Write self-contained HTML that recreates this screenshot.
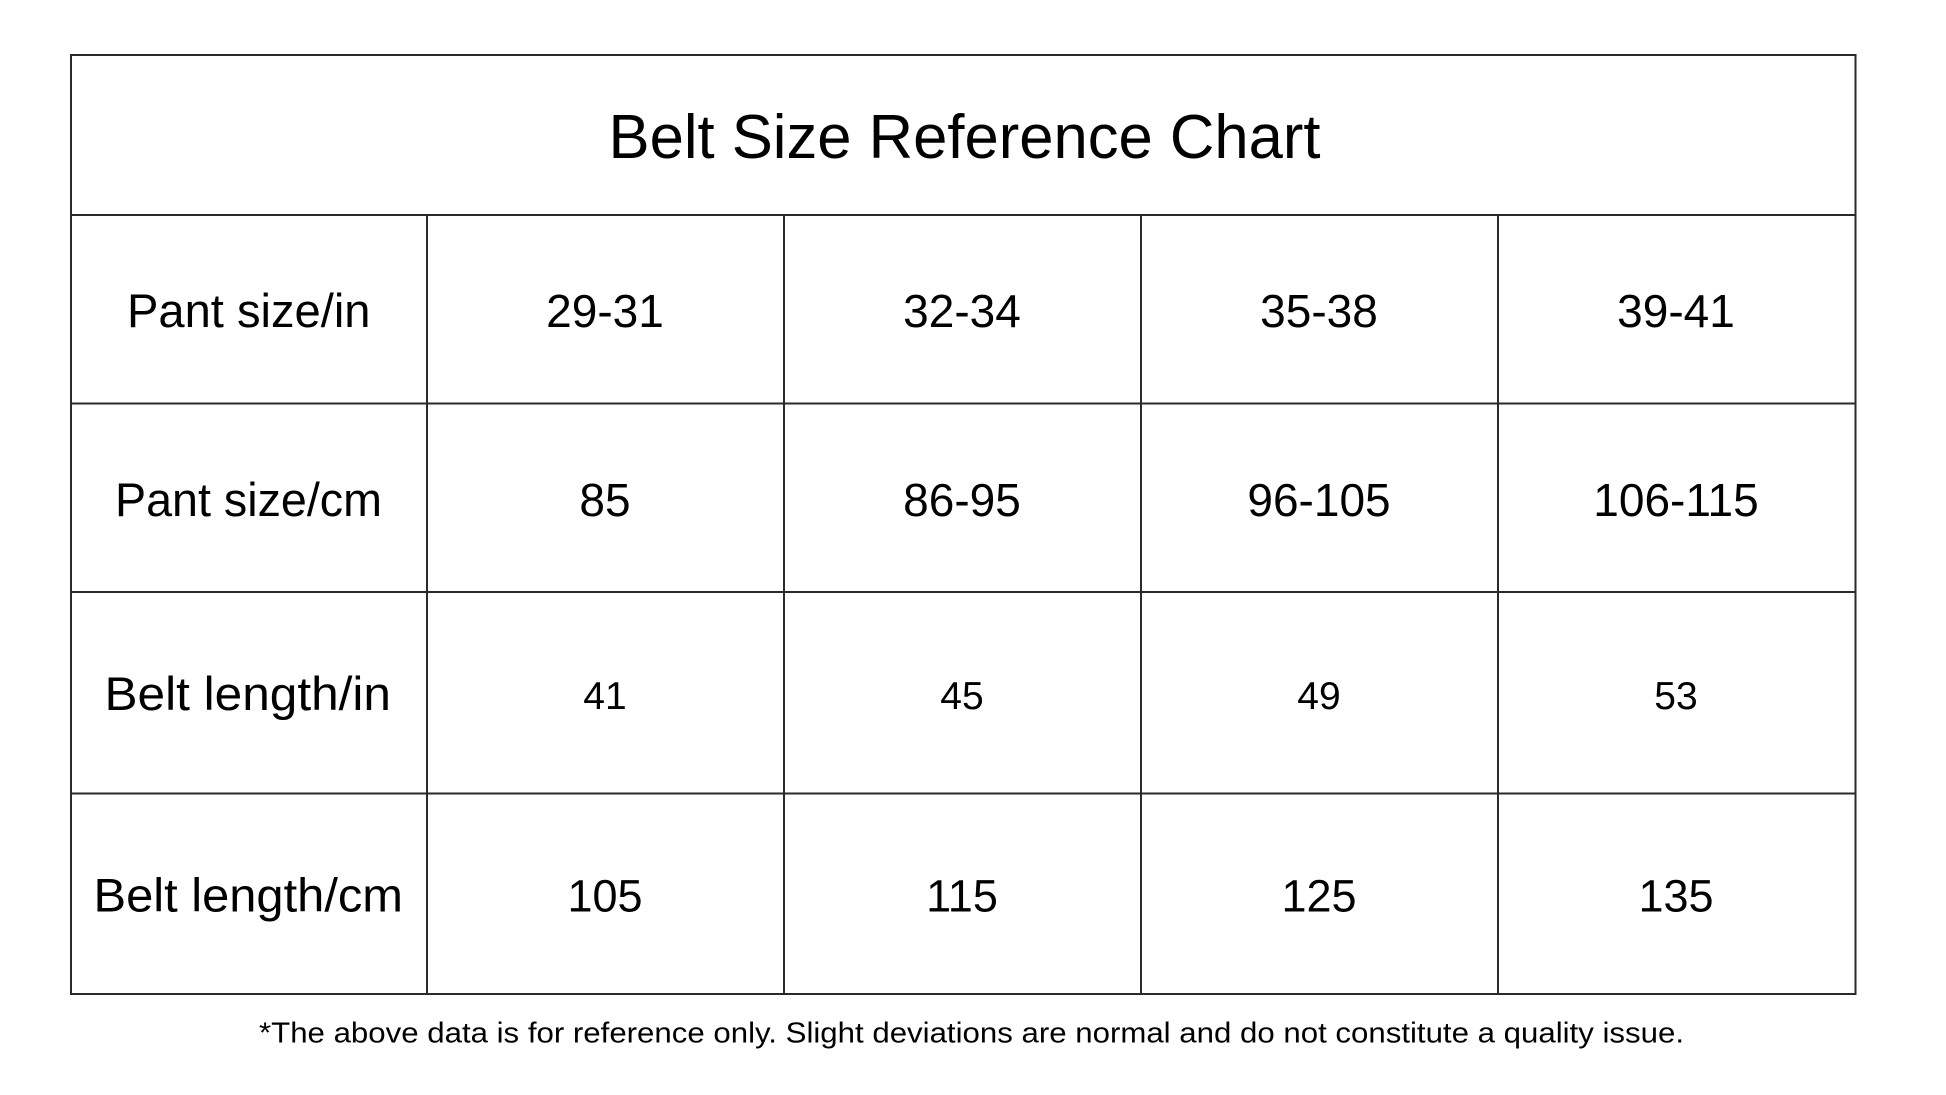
<!DOCTYPE html>
<html>
<head>
<meta charset="utf-8">
<style>
  html, body { margin: 0; padding: 0; background: #ffffff; }
  body { width: 1946px; height: 1095px; overflow: hidden; }
  svg { display: block; }
  text { font-family: "Liberation Sans", Arial, sans-serif; fill: #000; }
</style>
</head>
<body>
<svg width="1946" height="1095" viewBox="0 0 1946 1095" xmlns="http://www.w3.org/2000/svg">
  <rect x="0" y="0" width="1946" height="1095" fill="#ffffff"/>

  <!-- table grid -->
  <g stroke="#2a2a2a" stroke-width="2" fill="none">
    <rect x="71" y="55" width="1784.5" height="939"/>
    <line x1="71" y1="215" x2="1855.5" y2="215"/>
    <line x1="71" y1="403.5" x2="1855.5" y2="403.5"/>
    <line x1="71" y1="592" x2="1855.5" y2="592"/>
    <line x1="71" y1="793.5" x2="1855.5" y2="793.5"/>
    <line x1="427" y1="215" x2="427" y2="994"/>
    <line x1="784" y1="215" x2="784" y2="994"/>
    <line x1="1141" y1="215" x2="1141" y2="994"/>
    <line x1="1498" y1="215" x2="1498" y2="994"/>
  </g>

  <!-- title -->
  <text x="608.5" y="158" font-size="62" textLength="712" lengthAdjust="spacingAndGlyphs">Belt Size Reference Chart</text>

  <!-- row labels -->
  <text x="127" y="327" font-size="47" textLength="243.5" lengthAdjust="spacingAndGlyphs">Pant size/in</text>
  <text x="115" y="516" font-size="47" textLength="267" lengthAdjust="spacingAndGlyphs">Pant size/cm</text>
  <text x="104.5" y="710" font-size="47" textLength="286.5" lengthAdjust="spacingAndGlyphs">Belt length/in</text>
  <text x="93.5" y="911.5" font-size="47" textLength="309.5" lengthAdjust="spacingAndGlyphs">Belt length/cm</text>

  <!-- row 1 -->
  <g font-size="46" text-anchor="middle">
    <text x="605" y="327">29-31</text>
    <text x="962" y="327">32-34</text>
    <text x="1319" y="327">35-38</text>
    <text x="1676" y="327">39-41</text>
  </g>
  <!-- row 2 -->
  <g font-size="46" text-anchor="middle">
    <text x="605" y="516">85</text>
    <text x="962" y="516">86-95</text>
    <text x="1319" y="516">96-105</text>
    <text x="1676" y="516">106-115</text>
  </g>
  <!-- row 3 -->
  <g font-size="39" text-anchor="middle">
    <text x="605" y="709">41</text>
    <text x="962" y="709">45</text>
    <text x="1319" y="709">49</text>
    <text x="1676" y="709">53</text>
  </g>
  <!-- row 4 -->
  <g font-size="45" text-anchor="middle">
    <text x="605" y="911.5">105</text>
    <text x="962" y="911.5">115</text>
    <text x="1319" y="911.5">125</text>
    <text x="1676" y="911.5">135</text>
  </g>

  <!-- footnote -->
  <text x="259" y="1042.5" font-size="29" textLength="1425" lengthAdjust="spacingAndGlyphs">*The above data is for reference only. Slight deviations are normal and do not constitute a quality issue.</text>
</svg>
</body>
</html>
